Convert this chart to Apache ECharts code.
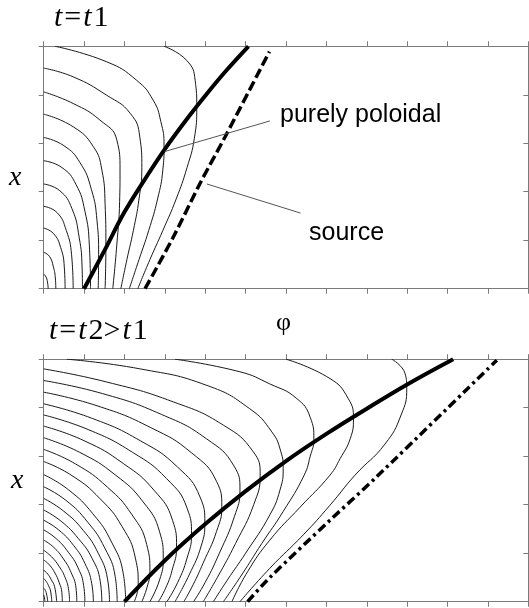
<!DOCTYPE html>
<html>
<head>
<meta charset="utf-8">
<script src="https://cdn.jsdelivr.net/npm/echarts@6/dist/echarts.min.js"></script>
<style>
  html, body { margin: 0; padding: 0; background: #fff; }
  #chart { width: 529px; height: 608px; }
</style>
</head>
<body>
<div id="chart"></div>
<script>
// axis ranges (phi across, x up)
const phiTicks = [0, 12, 1];
const xTicks = [0, 5, 1];

// t = t1 : thin field lines, each a list of [phi, x]
const topContours = [
  [[2.98,5],[3.54,4.71],[3.75,4.3],[3.79,3.75],[3.73,3.1],[3.55,2.5],[3.28,1.85],[2.95,1.2],[2.63,0.6],[2.33,0]],
  [[0.28,5],[1.56,4.68],[2.3,4.3],[2.71,3.89],[2.9,3.45],[2.98,2.95],[2.95,2.45],[2.82,1.85],[2.6,1.2],[2.36,0.6],[2.12,0]],
  [[0,4.55],[0.73,4.37],[1.56,3.99],[2.14,3.62],[2.38,3.13],[2.43,2.5],[2.36,1.85],[2.22,1.2],[2.06,0.6],[1.91,0]],
  [[0,4.06],[0.73,3.82],[1.39,3.48],[1.81,3.07],[1.89,2.45],[1.88,1.8],[1.81,0.9],[1.71,0]],
  [[0,3.6],[0.73,3.34],[1.23,2.93],[1.44,2.45],[1.52,1.75],[1.54,0.9],[1.52,0]],
  [[0,3.12],[0.5,2.95],[0.9,2.6],[1.18,2.05],[1.32,1.4],[1.36,0.7],[1.35,0]],
  [[0,2.64],[0.45,2.5],[0.8,2.15],[1.02,1.6],[1.13,0.9],[1.16,0]],
  [[0,2.16],[0.4,2.02],[0.7,1.65],[0.88,1.05],[0.95,0.45],[0.96,0]],
  [[0,1.7],[0.33,1.57],[0.56,1.2],[0.69,0.7],[0.73,0]],
  [[0,1.25],[0.24,1.14],[0.42,0.85],[0.51,0.45],[0.53,0]],
  [[0,0.75],[0.14,0.67],[0.24,0.45],[0.29,0.2],[0.3,0]],
  [[0,0.3],[0.06,0.24],[0.1,0.1],[0.11,0]]
];
const topPoloidal = [[1.0,0],[1.5,0.78],[2.0,1.58],[2.5,2.25],[3.0,2.88],[3.5,3.45],[4.0,3.98],[4.5,4.48],[5.07,5]];
const topSource = [[2.51,0],[3.2,1.05],[3.87,2.17],[4.49,3.13],[5.59,4.89]];
const topLeaderPoloidal = [[3.0,2.83],[5.6,3.46]];
const topLeaderSource = [[4.04,2.16],[6.36,1.56]];

// t = t2 > t1
const bottomContours = [
  [[8.62,5],[8.95,4.7],[8.99,4.4],[8.85,3.85],[8.45,3.25],[7.71,2.61],[7.09,1.99],[6.43,1.38],[5.6,0.69],[4.86,0]],
  [[6.0,5],[7.09,4.6],[7.54,4.19],[7.67,3.77],[7.59,3.36],[7.34,2.95],[7.09,2.61],[6.35,1.95],[5.6,1.27],[5.05,0.62],[4.66,0]],
  [[3.25,5],[4.86,4.74],[5.6,4.49],[6.25,4.2],[6.6,3.8],[6.69,3.35],[6.6,3.0],[6.45,2.61],[5.93,1.86],[5.4,1.2],[4.9,0.55],[4.45,0]],
  [[0.57,5],[2.39,4.8],[4.04,4.46],[5.1,3.98],[5.65,3.5],[5.87,3.1],[5.93,2.75],[5.85,2.3],[5.6,1.79],[5.0,1.0],[4.55,0.45],[4.2,0]],
  [[0,4.8],[1.56,4.53],[3.21,4.12],[4.45,3.64],[5.19,3.09],[5.36,2.61],[5.2,2.0],[4.75,1.2],[4.3,0.5],[3.95,0]],
  [[0,4.56],[1.46,4.29],[2.92,3.86],[4.03,3.36],[4.71,2.8],[4.86,2.3],[4.72,1.75],[4.35,1.0],[4.0,0.4],[3.71,0]],
  [[0,4.32],[1.32,4.04],[2.65,3.59],[3.66,3.07],[4.28,2.48],[4.41,1.96],[4.28,1.45],[3.95,0.8],[3.7,0.35],[3.47,0]],
  [[0,4.08],[1.2,3.78],[2.39,3.32],[3.31,2.78],[3.87,2.16],[3.99,1.62],[3.9,1.15],[3.6,0.55],[3.25,0]],
  [[0,3.85],[1.1,3.55],[2.2,3.08],[3.04,2.54],[3.55,1.93],[3.66,1.38],[3.55,0.9],[3.32,0.4],[3.05,0]],
  [[0,3.62],[1.0,3.32],[1.97,2.85],[2.73,2.3],[3.19,1.68],[3.29,1.13],[3.18,0.65],[3.02,0.28],[2.84,0]],
  [[0,3.38],[0.89,3.08],[1.78,2.61],[2.46,2.06],[2.87,1.44],[2.96,0.89],[2.87,0.45],[2.63,0]],
  [[0,3.14],[0.79,2.84],[1.58,2.36],[2.18,1.8],[2.55,1.18],[2.63,0.62],[2.56,0.3],[2.43,0]],
  [[0,2.89],[0.7,2.6],[1.4,2.12],[1.94,1.55],[2.27,0.9],[2.34,0.34],[2.24,0]],
  [[0,2.62],[0.61,2.31],[1.22,1.81],[1.68,1.23],[1.97,0.58],[2.03,0]],
  [[0,2.37],[0.55,2.09],[1.09,1.64],[1.51,1.11],[1.77,0.52],[1.82,0]],
  [[0,2.13],[0.49,1.87],[0.98,1.47],[1.35,1.0],[1.58,0.47],[1.63,0]],
  [[0,1.89],[0.43,1.66],[0.86,1.3],[1.2,0.89],[1.4,0.42],[1.44,0]],
  [[0,1.68],[0.37,1.48],[0.74,1.16],[1.02,0.79],[1.19,0.37],[1.23,0]],
  [[0,1.48],[0.31,1.3],[0.61,1.02],[0.85,0.7],[0.99,0.33],[1.02,0]],
  [[0,1.27],[0.25,1.12],[0.49,0.88],[0.68,0.6],[0.8,0.28],[0.82,0]],
  [[0,1.06],[0.19,0.93],[0.38,0.73],[0.53,0.5],[0.62,0.23],[0.64,0]],
  [[0,0.86],[0.14,0.76],[0.28,0.59],[0.38,0.4],[0.45,0.19],[0.46,0]],
  [[0,0.65],[0.1,0.57],[0.19,0.45],[0.27,0.31],[0.32,0]],
  [[0,0.48],[0.06,0.42],[0.12,0.33],[0.17,0.22],[0.2,0]],
  [[0,0.28],[0.03,0.25],[0.07,0.16],[0.1,0]],
  [[0,0.14],[0.02,0.08],[0.03,0]]
];
const bottomPoloidal = [[2.0,0],[3.0,0.85],[4.0,1.6],[5.0,2.28],[6.0,2.9],[7.0,3.46],[8.0,3.98],[9.0,4.48],[10.14,5]];
const bottomSource = [[5.05,0],[5.6,0.5],[7.09,1.68],[8.25,2.58],[11.22,4.98]];

const frameColor = "#7a7a7a";
const serif = "'Liberation Serif', 'DejaVu Serif', serif";
const sans = "'Liberation Sans', Arial, sans-serif";

function makeX(gridIndex, position) {
  return {
    type: "value", gridIndex: gridIndex, position: position,
    min: phiTicks[0], max: phiTicks[1], interval: phiTicks[2],
    axisLine: { show: true, onZero: false, lineStyle: { color: frameColor, width: 1 } },
    axisTick: { show: true, inside: false, length: 5, lineStyle: { color: frameColor } },
    axisLabel: { show: false },
    splitLine: { show: false }
  };
}
function makeY(gridIndex, position) {
  return {
    type: "value", gridIndex: gridIndex, position: position,
    min: xTicks[0], max: xTicks[1], interval: xTicks[2],
    axisLine: { show: true, onZero: false, lineStyle: { color: frameColor, width: 1 } },
    axisTick: { show: true, inside: position === "right", length: 5, lineStyle: { color: frameColor } },
    axisLabel: { show: false },
    splitLine: { show: false }
  };
}

function thin(data, g) {
  return {
    type: "line", data: data, xAxisIndex: g * 2, yAxisIndex: g * 2,
    showSymbol: false, symbol: "none", smooth: 0.5, silent: true,
    lineStyle: { color: "#1a1a1a", width: 1 }
  };
}

const series = [];
topContours.forEach(c => series.push(thin(c, 0)));
bottomContours.forEach(c => series.push(thin(c, 1)));
series.push({
  type: "line", data: topPoloidal, xAxisIndex: 0, yAxisIndex: 0, symbol: "none", smooth: 0.4,
  lineStyle: { color: "#000", width: 4 }
});
series.push({
  type: "line", data: topSource, xAxisIndex: 0, yAxisIndex: 0, symbol: "none", smooth: 0.3,
  lineStyle: { color: "#000", width: 3.5, type: [10, 4] }
});
series.push({
  type: "line", data: bottomPoloidal, xAxisIndex: 2, yAxisIndex: 2, symbol: "none", smooth: 0.4,
  lineStyle: { color: "#000", width: 4 }
});
series.push({
  type: "line", data: bottomSource, xAxisIndex: 2, yAxisIndex: 2, symbol: "none", smooth: 0.3,
  lineStyle: { color: "#000", width: 3.5, type: [9, 4, 3, 4] }
});
[topLeaderPoloidal, topLeaderSource].forEach(d => series.push({
  type: "line", data: d, xAxisIndex: 0, yAxisIndex: 0, symbol: "none",
  lineStyle: { color: "#555", width: 1 }
}));

const titleRich = {
  i: { font: "italic 30px 'Liberation Serif'", fill: "#000", padding: [0, 1] },
  r: { font: "30px 'Liberation Serif'", fill: "#000", padding: [0, 1] }
};

const chart = echarts.init(document.getElementById("chart"));
chart.setOption({
  animation: false,
  backgroundColor: "#fff",
  grid: [
    { left: 43.7, top: 46.3, width: 484.6, height: 242.4 },
    { left: 43.7, top: 359.2, width: 484.6, height: 242.5 }
  ],
  xAxis: [makeX(0, "bottom"), makeX(0, "top"), makeX(1, "bottom"), makeX(1, "top")],
  yAxis: [makeY(0, "left"), makeY(0, "right"), makeY(1, "left"), makeY(1, "right")],
  series: series,
  graphic: [
    {
      type: "text", left: 54, top: 3,
      style: { text: "{i|t}{r|=}{i|t}{r|1}", rich: titleRich }
    },
    {
      type: "text", left: 49, top: 316,
      style: { text: "{i|t}{r|=}{i|t}{r|2>}{i|t}{r|1}", rich: titleRich }
    },
    { type: "text", left: 9, top: 164, style: { text: "x", fontFamily: serif, fontStyle: "italic", fontSize: 28, fill: "#000" } },
    { type: "text", left: 11, top: 467, style: { text: "x", fontFamily: serif, fontStyle: "italic", fontSize: 28, fill: "#000" } },
    { type: "text", left: 276, top: 310, style: { text: "φ", fontFamily: serif, fontSize: 26, fill: "#000" } },
    { type: "text", left: 280, top: 103, style: { text: "purely poloidal", fontFamily: sans, fontSize: 25, fill: "#000" } },
    { type: "text", left: 309, top: 221, style: { text: "source", fontFamily: sans, fontSize: 25, fill: "#000" } }
  ]
});
</script>
</body>
</html>
